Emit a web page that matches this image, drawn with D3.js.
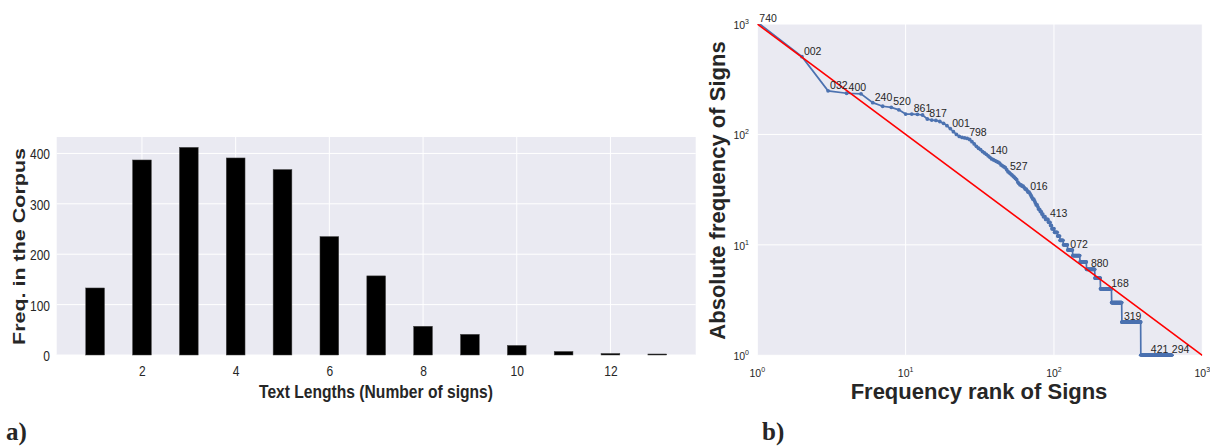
<!DOCTYPE html>
<html lang="en">
<head>
<meta charset="UTF-8"/>
<title>Sign text lengths and rank-frequency</title>
<script src="https://cdnjs.cloudflare.com/ajax/libs/d3/7.8.5/d3.min.js"></script>
<style>
    body { margin: 0; background: #fff; }
    svg text { font-family: "Liberation Sans", Arial, sans-serif; fill: #262626; }
</style>
</head>
<body>
<script>
    // ---- a) text length histogram ----
    var textLengths = [1, 2, 3, 4, 5, 6, 7, 8, 9, 10, 11, 12, 13];
    var lengthCounts = [133, 387, 412, 391, 368, 235, 157, 57, 41, 19, 7, 3, 2];
    var lengthTicks = [2, 4, 6, 8, 10, 12];
    var countTicks = [0, 100, 200, 300, 400];

    // ---- b) rank / frequency of signs ----
    // frequencies for ranks 1..105
    var headFreq = [1040, 506, 248, 236, 233, 194, 180, 176, 167, 153,
                    153, 152, 150, 138, 135, 134, 131, 126, 120, 113,
                    106, 100, 96, 94, 93, 92, 90, 86, 82, 78,
                    75, 73, 70, 68, 66, 64, 62, 60, 59, 58,
                    57, 56, 55, 53, 52, 51, 50, 48, 46, 45,
                    44, 43, 42, 41, 40, 39, 37, 36, 35, 35,
                    34, 34, 33, 32, 32, 31, 30, 30, 29, 28,
                    27, 26, 26, 25, 24, 23, 23, 22, 21, 21,
                    20, 20, 19, 19, 18, 18, 18, 17, 17, 17,
                    17, 16, 16, 16, 15, 15, 14, 14, 14, 14,
                    13, 13, 13, 13, 13];
    // tail: how many signs share each low frequency
    var tailFreqValues = [12, 11, 10, 9, 8, 7, 6, 5, 4, 3, 2, 1];
    var tailFreqCounts = [4, 6, 8, 10, 16, 16, 23, 17, 39, 42, 98, 238];

    var signLabels = ["740", "002", "032", "400", "240", "520", "861", "817", "001", "798",
                      "140", "527", "016", "413", "072", "880", "168", "319", "421", "294"];
    var signLabelRanks = [1, 2, 3, 4, 6, 8, 11, 14, 20, 26, 36, 49, 67, 91, 125, 172, 236, 287, 436, 604];

    var zipfRank = [1, 1000];
    var zipfFreq = [1000, 1];
    var logTicks = [1, 10, 100, 1000];
    var logExp = ["0", "1", "2", "3"];

    var svg = d3.select("body").append("svg")
                .attr("width", 1210)
                .attr("height", 447);

    // ================= chart a =================
    var a = { left: 56.7, right: 695.7, top: 137, bottom: 355 };

    var xA = d3.scaleLinear().domain([0.18, 13.82]).range([a.left, a.right]);
    var yA = d3.scaleLinear().domain([0, 432.6]).range([a.bottom, a.top]);

    svg.append("rect")
       .attr("x", a.left).attr("y", a.top)
       .attr("width", a.right - a.left).attr("height", a.bottom - a.top)
       .attr("fill", "#eaeaf2");

    var gridA = svg.append("g").attr("stroke", "#fff").attr("stroke-width", 1);
    gridA.selectAll(".gx").data(lengthTicks).enter().append("line")
         .attr("x1", function(d) { return xA(d); }).attr("x2", function(d) { return xA(d); })
         .attr("y1", a.top).attr("y2", a.bottom);
    gridA.selectAll(".gy").data(countTicks).enter().append("line")
         .attr("x1", a.left).attr("x2", a.right)
         .attr("y1", function(d) { return yA(d); }).attr("y2", function(d) { return yA(d); });

    svg.selectAll(".bar")
       .data(lengthCounts)
       .enter()
       .append("rect")
       .attr("x", function(d, i) { return xA(textLengths[i] - 0.2); })
       .attr("y", function(d) { return yA(d); })
       .attr("width", xA(0.4) - xA(0))
       .attr("height", function(d) { return a.bottom - yA(d); })
       .attr("fill", "#000")
       .attr("stroke", "#444")
       .attr("stroke-width", 0.5);

    // axes (no tick marks, condensed labels like the reference)
    var xAxisA = svg.append("g")
        .attr("transform", "translate(0," + a.bottom + ")")
        .call(d3.axisBottom(xA).tickValues(lengthTicks).tickSize(0).tickPadding(0));
    xAxisA.select(".domain").remove();
    xAxisA.selectAll("text")
        .attr("y", 20.7).attr("dy", 0)
        .attr("transform", "scale(0.8,1)")
        .style("font-size", "15px").attr("fill", "#262626");

    var yAxisA = svg.append("g")
        .attr("transform", "translate(" + a.left + ",0)")
        .call(d3.axisLeft(yA).tickValues(countTicks).tickSize(0).tickPadding(0));
    yAxisA.select(".domain").remove();
    yAxisA.selectAll("text")
        .attr("x", 0).attr("dy", "0.36em")
        .attr("transform", "translate(-6.7,0) scale(0.8,1)")
        .style("font-size", "15px").attr("fill", "#262626");

    svg.append("text")
       .attr("x", 376).attr("y", 398)
       .attr("text-anchor", "middle")
       .attr("textLength", 234).attr("lengthAdjust", "spacingAndGlyphs")
       .style("font-size", "18px").style("font-weight", "bold")
       .text("Text Lengths (Number of signs)");

    svg.append("text")
       .attr("transform", "translate(24.5,246.5) rotate(-90)")
       .attr("text-anchor", "middle")
       .attr("textLength", 197).attr("lengthAdjust", "spacingAndGlyphs")
       .style("font-size", "16px").style("font-weight", "bold")
       .text("Freq. in the Corpus");

    // ================= chart b =================
    var b = { left: 757.3, right: 1202.3, top: 24, bottom: 355.3 };

    var xB = d3.scaleLog().domain([1, 1000]).range([b.left, b.right]);
    var yB = d3.scaleLog().domain([1, 1000]).range([b.bottom, b.top]);

    svg.append("rect")
       .attr("x", b.left).attr("y", b.top)
       .attr("width", b.right - b.left).attr("height", b.bottom - b.top)
       .attr("fill", "#eaeaf2");

    var gridB = svg.append("g").attr("stroke", "#fff").attr("stroke-width", 1);
    gridB.selectAll(".gx").data(logTicks).enter().append("line")
         .attr("x1", function(d) { return xB(d); }).attr("x2", function(d) { return xB(d); })
         .attr("y1", b.top).attr("y2", b.bottom);
    gridB.selectAll(".gy").data(logTicks).enter().append("line")
         .attr("x1", b.left).attr("x2", b.right)
         .attr("y1", function(d) { return yB(d); }).attr("y2", function(d) { return yB(d); });

    // build rank/frequency pairs
    var points = [];
    headFreq.forEach(function(f, i) { points.push([i + 1, f]); });
    var rank = headFreq.length;
    tailFreqValues.forEach(function(f, i) {
        for (var k = 0; k < tailFreqCounts[i]; k++) {
            rank++;
            points.push([rank, f]);
        }
    });

    svg.append("clipPath").attr("id", "clipB")
       .append("rect")
       .attr("x", b.left).attr("y", b.top)
       .attr("width", b.right - b.left).attr("height", b.bottom - b.top + 1);

    var plotB = svg.append("g").attr("clip-path", "url(#clipB)");

    var line = d3.line()
        .x(function(d) { return xB(d[0]); })
        .y(function(d) { return yB(d[1]); });

    plotB.append("path")
         .datum(points)
         .attr("d", line)
         .attr("fill", "none")
         .attr("stroke", "#4c72b0")
         .attr("stroke-width", 1.7);

    plotB.selectAll(".dot")
         .data(points)
         .enter()
         .append("circle")
         .attr("cx", function(d) { return xB(d[0]); })
         .attr("cy", function(d) { return yB(d[1]); })
         .attr("r", 1.9)
         .attr("fill", "#4c72b0");

    var zipf = zipfRank.map(function(r, i) { return [r, zipfFreq[i]]; });
    plotB.append("path")
         .datum(zipf)
         .attr("d", line)
         .attr("fill", "none")
         .attr("stroke", "#ff0000")
         .attr("stroke-width", 1.6);

    // sign labels at their rank
    svg.selectAll(".sign")
       .data(signLabels)
       .enter()
       .append("text")
       .attr("x", function(d, i) { return xB(signLabelRanks[i]) + 2; })
       .attr("y", function(d, i) {
           var f = Math.min(points[signLabelRanks[i] - 1][1], 1000);
           return yB(f) - 2;
       })
       .style("font-size", "10.5px")
       .attr("fill", "#262626")
       .text(function(d) { return d; });

    // log tick labels 10^n
    var xt = svg.selectAll(".xt").data(logTicks).enter().append("text")
        .attr("x", function(d) { return xB(d); })
        .attr("y", 377)
        .attr("text-anchor", "middle")
        .style("font-size", "10.5px").attr("fill", "#555");
    xt.append("tspan").text("10");
    xt.append("tspan").attr("dy", -5).style("font-size", "7px")
      .text(function(d, i) { return logExp[i]; });

    var yt = svg.selectAll(".yt").data(logTicks).enter().append("text")
        .attr("x", 749)
        .attr("y", function(d) { return yB(d) + 5; })
        .attr("text-anchor", "end")
        .style("font-size", "10.5px").attr("fill", "#555");
    yt.append("tspan").text("10");
    yt.append("tspan").attr("dy", -5).style("font-size", "7px")
      .text(function(d, i) { return logExp[i]; });

    svg.append("text")
       .attr("x", 979).attr("y", 399)
       .attr("text-anchor", "middle")
       .style("font-size", "22px").style("font-weight", "bold")
       .text("Frequency rank of Signs");

    svg.append("text")
       .attr("transform", "translate(725,190.5) rotate(-90)")
       .attr("text-anchor", "middle")
       .style("font-size", "22px").style("font-weight", "bold")
       .text("Absolute frequency of Signs");

    // panel letters
    svg.append("text")
       .attr("x", 6).attr("y", 440)
       .style("font-family", "'Liberation Serif', 'Times New Roman', serif")
       .style("font-size", "25px").style("font-weight", "bold")
       .attr("fill", "#000")
       .text("a)");
    svg.append("text")
       .attr("x", 762).attr("y", 440)
       .style("font-family", "'Liberation Serif', 'Times New Roman', serif")
       .style("font-size", "25px").style("font-weight", "bold")
       .attr("fill", "#000")
       .text("b)");
</script>
</body>
</html>
